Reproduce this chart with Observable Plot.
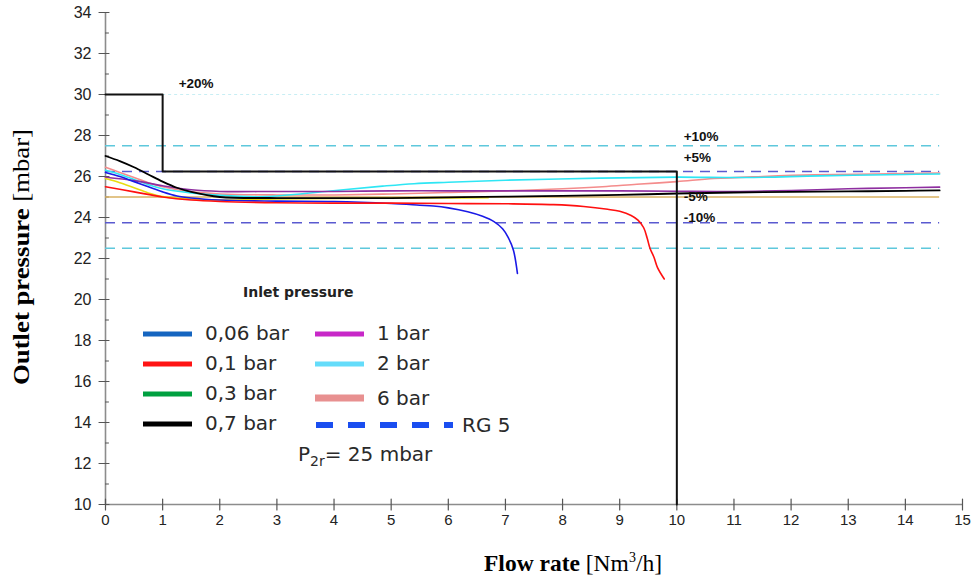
<!DOCTYPE html>
<html><head><meta charset="utf-8">
<script src="https://cdn.jsdelivr.net/npm/d3@7"></script>
<script src="https://cdn.jsdelivr.net/npm/@observablehq/plot@0.6"></script>
<style>
body{margin:0;background:#fff}
#chart{position:relative;width:973px;height:581px}
</style>
</head><body><div id="chart"></div>
<script>
// ---- axis ticks ----
const xTicks = [0,1,2,3,4,5,6,7,8,9,10,11,12,13,14,15];
const yMajor = [10,12,14,16,18,20,22,24,26,28,30,32,34];
const yMinor = [11,13,15,17,19,21,23,25,27,29,31,33];

// ---- series (flow rate Nm3/h -> outlet pressure mbar) ----
const seriesNames = ["0,06 bar","0,1 bar","0,3 bar","0,7 bar","1 bar","2 bar","6 bar"];

const flow006 = [0,0.25,0.5,0.75,1,1.25,1.5,2,3,4,5,5.5,5.74,6.0,6.34,6.6,6.8,6.95,7.05,7.14,7.21];
const p006    = [26.2,26.0,25.75,25.5,25.25,25.05,24.95,24.85,24.8,24.78,24.68,24.6,24.56,24.47,24.28,24.06,23.8,23.45,23.02,22.4,21.27];

const flow01 = [0,0.5,1,1.5,2,3,4,5,6,7,7.84,8.37,8.79,9.0,9.2,9.32,9.42,9.48,9.53,9.6,9.66,9.78];
const p01    = [25.5,25.25,25.0,24.85,24.78,24.72,24.7,24.7,24.68,24.67,24.63,24.54,24.4,24.3,24.1,23.87,23.5,23.0,22.5,22.06,21.57,21.0];

const flow03 = [0,0.25,0.5,0.75,1,1.5,2,3,4,5,6,6.7];
const p03    = [25.9,25.7,25.45,25.2,25.02,24.9,24.85,24.9,24.93,24.95,24.95,24.96];

const flow07 = [0,0.25,0.5,0.75,1,1.25,1.5,2,3,4,5,6,7,8,9,10,11,12,13,14,14.6];
const p07    = [27.0,26.75,26.45,26.1,25.75,25.45,25.25,25.0,24.95,24.95,24.95,24.98,25.02,25.05,25.1,25.17,25.22,25.25,25.27,25.3,25.32];

const flow1 = [0,0.5,1,1.5,2,3,4,5,6,7,8,9,10,11,12,13,14,14.6];
const p1    = [25.96,25.8,25.55,25.35,25.27,25.27,25.27,25.3,25.3,25.3,25.3,25.3,25.28,25.27,25.32,25.4,25.45,25.48];

const flow2 = [0,0.25,0.5,0.75,1,1.5,2,2.8,3.85,4.85,5.4,6,7,8.66,10,11.2,12.5,14,14.6];
const p2    = [26.3,26.1,25.85,25.6,25.4,25.2,25.08,25.02,25.27,25.53,25.65,25.72,25.82,25.92,25.97,25.95,26.03,26.1,26.12];

const flow6 = [0,0.25,0.5,0.75,1,1.5,2,3,4,5,6,7,8,8.7,9.3,10,10.65,11.5,12.4,13.5,14.6];
const p6    = [26.45,26.2,25.95,25.7,25.5,25.25,25.15,25.1,25.1,25.15,25.22,25.3,25.4,25.5,25.62,25.75,25.9,26.0,26.08,26.12,26.17];

const seriesFlows = [flow006, flow01, flow03, flow07, flow1, flow2, flow6];
const seriesPress = [p006, p01, p03, p07, p1, p2, p6];

// ---- regulator envelope (step limit) ----
const boxFlow = [0,1,1,10,10];
const boxPress = [30,30,26.25,26.25,10];

// ---- tolerance levels ----
const nominal = 25;
const tolLevels = [30, 27.5, 26.25, 23.75, 22.5];
const tolStart  = [1, 0, 0, 0, 0];
const tolEnd = 14.6;
const tolLabels = ["+20%","+10%","+5%","-5%","-10%"];

// ---- styling (not data) ----
const lineColors   = ["#1a1ae6","#ff1010","#e8dc10","#000000","#8e2ea0","#2ee6f4","#f48c8c"];
const legendColors = ["#1565c0","#ff1414","#00a040","#000000","#c828c8","#64dcfa","#e89090"];
const tolStroke = ["#c8eef4","#5ec8dc","#5a5ad0","#5a5ad0","#5ec8dc"];
const tolDash   = ["3,3","10,7","10,7","10,7","10,7"];
const tolWidth  = [1.2,1.5,1.5,1.5,1.5];
const labelX  = [1.28,10.12,10.12,10.12,10.12];
const labelDy = [-11,-9,-14,-26,-31];

const tickLine = {draw(c, l){ c.moveTo(0,0); c.lineTo(0,-l); }};

const tolRows = tolLevels.map((y,i)=>({y, x1: tolStart[i], x2: tolEnd, stroke: tolStroke[i], dash: tolDash[i], w: tolWidth[i], label: tolLabels[i], lx: labelX[i], dy: labelDy[i]}));

const seriesRows = seriesNames.map((name,i)=>seriesFlows[i].map((x,j)=>({name, x, y: seriesPress[i][j]})));

const marks = [
  // axis lines
  Plot.ruleY([10], {x1: 0, x2: 15, stroke: "#8c8c8c", strokeWidth: 1.6}),
  Plot.ruleX([0], {y1: 10, y2: 34, stroke: "#8c8c8c", strokeWidth: 1.6}),
  // tick marks
  Plot.vector(xTicks, {x: d=>d, y: 10, length: 11, rotate: 0, anchor: "middle", shape: tickLine, stroke: "#555", strokeWidth: 1.2}),
  Plot.vector(yMajor, {x: 0, y: d=>d, length: 10, rotate: 90, anchor: "middle", dx: -1.5, shape: tickLine, stroke: "#555", strokeWidth: 1.2}),
  Plot.vector(yMinor, {x: 0, y: d=>d, length: 3, rotate: 90, anchor: "start", shape: tickLine, stroke: "#555", strokeWidth: 1}),
  Plot.axisX({ticks: xTicks, tickSize: 0, tickPadding: 10, label: null, fontSize: 15, fontFamily: "'Liberation Sans Narrow','Arial Narrow','Liberation Sans',Arial,sans-serif"}),
  Plot.axisY({ticks: yMajor, tickSize: 0, tickPadding: 14, label: null, fontSize: 16}),
  // tolerance lines
  ...tolRows.map(r => Plot.ruleY([r], {y: "y", x1: "x1", x2: "x2", stroke: r.stroke, strokeDasharray: r.dash, strokeWidth: r.w})),
  // nominal 25 mbar
  Plot.ruleY([nominal], {x1: 0, x2: tolEnd, stroke: "#d8b060", strokeWidth: 1.3}),
  // series curves
  ...[6,5,4,2,3,0,1].map(i => Plot.line(seriesRows[i], {x: "x", y: "y", stroke: lineColors[i], strokeWidth: i===3?1.8:1.6, curve: "catmull-rom"})),
  // step envelope
  Plot.line(boxFlow.map((x,i)=>({x, y: boxPress[i]})), {x: "x", y: "y", stroke: "#111", strokeWidth: 2}),
  // tolerance labels
  ...tolRows.map(r => Plot.text([r], {x: "lx", y: "y", text: "label", dy: r.dy, textAnchor: "start", fontWeight: "bold", fontSize: 13.5, fill: "#111"}))
];

const chart = Plot.plot({
  width: 973, height: 581,
  marginLeft: 105, marginRight: 11, marginTop: 12, marginBottom: 77,
  x: {domain: [0, 15]},
  y: {domain: [10, 34]},
  style: {fontFamily: "'Liberation Sans', Arial, sans-serif", color: "#222", background: "#fff", overflow: "visible"},
  marks
});

document.getElementById("chart").appendChild(chart);

// ---- titles and in-plot legend ----
const svg = d3.select(chart);
const serif = "'Liberation Serif','Times New Roman',serif";

const yl = svg.append("text")
  .attr("transform", "translate(29,257) rotate(-90)")
  .attr("text-anchor", "middle")
  .attr("textLength", 256).attr("lengthAdjust", "spacingAndGlyphs")
  .attr("font-family", serif).attr("font-size", 24).attr("fill", "#000");
yl.append("tspan").attr("font-weight", "bold").text("Outlet pressure");
yl.append("tspan").text(" [mbar]");

const xl = svg.append("text")
  .attr("x", 573).attr("y", 571)
  .attr("text-anchor", "middle")
  .attr("font-family", serif).attr("font-size", 23.5).attr("fill", "#000");
xl.append("tspan").attr("font-weight", "bold").text("Flow rate");
xl.append("tspan").text(" [Nm");
xl.append("tspan").attr("font-size", 14).attr("dy", -9).text("3");
xl.append("tspan").attr("dy", 9).text("/h]");

const lg = svg.append("g").attr("font-family", "'DejaVu Sans', Verdana, sans-serif").attr("text-anchor", "start");
lg.append("text").attr("x", 243).attr("y", 297).attr("text-anchor", "start").attr("font-weight", "bold").attr("font-size", 14).attr("fill", "#222").text("Inlet pressure");

const legendRows = [
  {i:0, sx:143, tx:205, sy:334, ty:340},
  {i:1, sx:143, tx:205, sy:364, ty:370},
  {i:2, sx:143, tx:205, sy:394, ty:400},
  {i:3, sx:143, tx:205, sy:424, ty:430},
  {i:4, sx:315, tx:377, sy:334, ty:340},
  {i:5, sx:315, tx:377, sy:364, ty:370},
  {i:6, sx:315, tx:377, sy:398, ty:405}
];
legendRows.forEach(r => {
  lg.append("line").attr("x1", r.sx).attr("x2", r.sx+49).attr("y1", r.sy).attr("y2", r.sy)
    .attr("stroke", legendColors[r.i]).attr("stroke-width", r.i===6?7:5);
  lg.append("text").attr("x", r.tx).attr("y", r.ty).attr("text-anchor", "start").attr("font-size", 20).attr("fill", "#2a2a2a").text(seriesNames[r.i]);
});
lg.append("line").attr("x1", 316).attr("x2", 453).attr("y1", 425).attr("y2", 425)
  .attr("stroke", "#1a4ef0").attr("stroke-width", 6).attr("stroke-dasharray", "17,15");
lg.append("text").attr("x", 462).attr("y", 432).attr("text-anchor", "start").attr("font-size", 20).attr("fill", "#2a2a2a").text("RG 5");
const pt = lg.append("text").attr("x", 298).attr("y", 461).attr("text-anchor", "start").attr("font-size", 20).attr("fill", "#2a2a2a");
pt.append("tspan").text("P");
pt.append("tspan").attr("font-size", 14).attr("dy", 5).text("2r");
pt.append("tspan").attr("dy", -5).text("= 25 mbar");
</script>
</body></html>
